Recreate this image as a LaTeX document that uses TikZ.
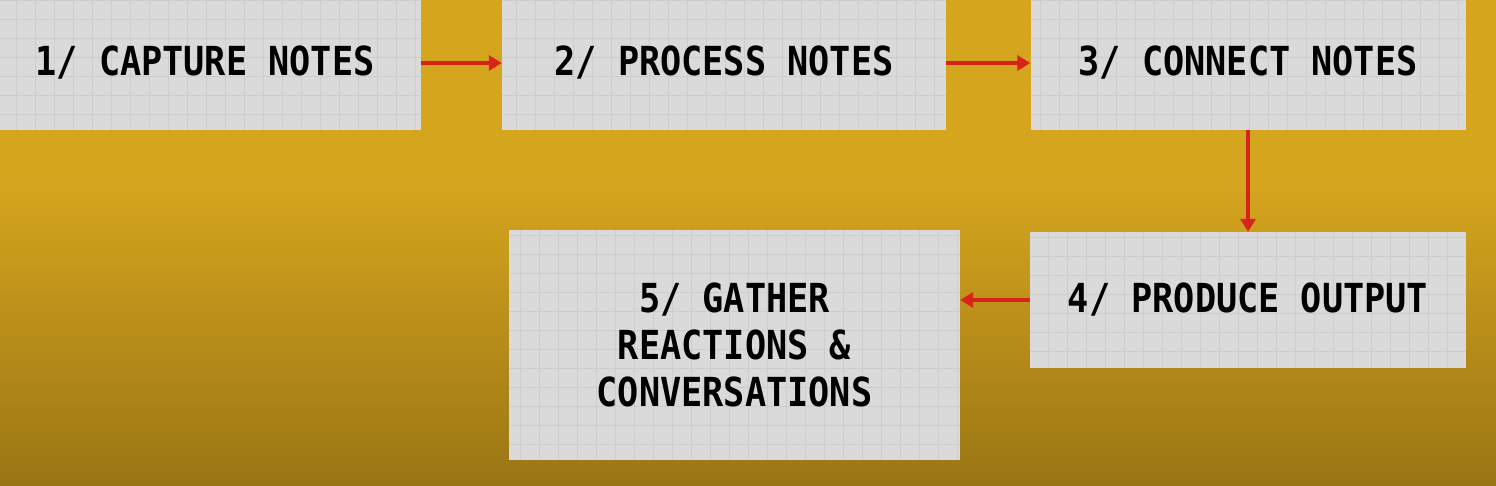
\documentclass[tikz,border=0pt]{standalone}
\usepackage{fontspec}
\newfontfamily\stepfont[FakeStretch=0.88]{DejaVu Sans Mono}
\usetikzlibrary{arrows.meta}
\definecolor{mustard}{HTML}{D5A51E}
\definecolor{mustarddark}{HTML}{9A7514}
\definecolor{sheet}{HTML}{DADADA}
\definecolor{sheetline}{HTML}{CDCDCD}
\definecolor{flowred}{HTML}{D8231B}

\begin{document}
\begin{tikzpicture}[x=1pt, y=1pt, >={Triangle[length=13pt,width=15pt]},
stepbox/.style={fill=sheet, inner sep=0pt, align=center, text=black,
font=\stepfont\bfseries\fontsize{40}{47}\selectfont,
path picture={\draw [sheetline, line width=0.8pt]
([shift={(-20pt,-20pt)}]path picture bounding box.south west) grid [step=19pt]
(path picture bounding box.north east);}},
flow/.style={->, draw=flowred, line width=4pt}]
\useasboundingbox (0,0) rectangle (1496,486);
\fill [mustard] (0,300) rectangle (1496,486);
\shade [top color=mustard, bottom color=mustarddark] (0,0) rectangle (1496,301);
% top row
\node [stepbox, minimum width=432pt, minimum height=134pt] (capture) at (205,423) {1/ CAPTURE NOTES};
\node [stepbox, minimum width=444pt, minimum height=134pt] (process) at (724,423) {2/ PROCESS NOTES};
\node [stepbox, minimum width=435pt, minimum height=134pt] (connect) at (1248,423) {3/ CONNECT NOTES};
% bottom row
\node [stepbox, minimum width=436pt, minimum height=136pt] (produce) at (1248,186) {4/ PRODUCE OUTPUT};
\node [stepbox, minimum width=451pt, minimum height=230pt] (gather) at (734.5,141) {5/ GATHER\\REACTIONS \&\\CONVERSATIONS};
\draw [flow] (capture.east) -- (process.west);
\draw [flow] (process.east) -- (connect.west);
\draw [flow] (connect.south) -- (produce.north);
\draw [flow] (produce.west) -- (produce.west -| gather.east);
\end{tikzpicture}
\end{document}
